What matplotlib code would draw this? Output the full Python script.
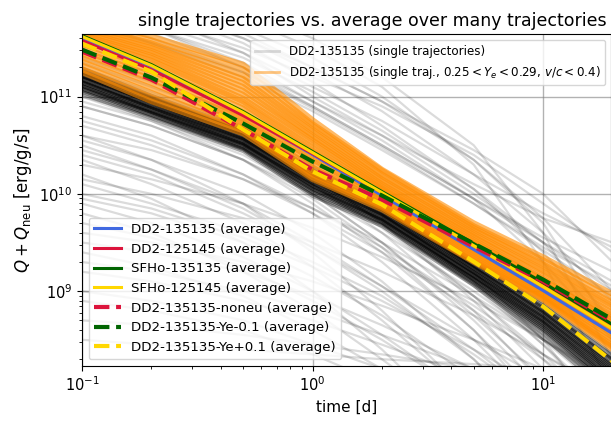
import numpy as np
import matplotlib.pyplot as plt
from matplotlib.lines import Line2D

t_nodes = [0.1, 0.2, 0.5, 1, 2, 5, 10, 20]

# averages, log10(Q + Q_neu) [erg/g/s]
avg_dd2_135135 = [11.606, 11.308, 10.815, 10.404, 9.983, 9.428, 9.006, 8.564]
avg_dd2_125145 = [11.576, 11.277, 10.805, 10.414, 10.013, 9.479, 9.078, 8.646]
avg_sfho_135135 = [11.627, 11.329, 10.846, 10.435, 10.024, 9.489, 9.088, 8.657]
avg_sfho_125145 = [11.617, 11.319, 10.836, 10.424, 10.013, 9.468, 9.047, 8.616]
avg_noneu = [11.462, 11.175, 10.661, 10.250, 9.941, 9.458, 9.099, 8.688]
avg_ye_minus = [11.483, 11.195, 10.723, 10.332, 9.983, 9.489, 9.119, 8.708]
avg_ye_plus = [11.545, 11.257, 10.661, 10.230, 9.890, 9.304, 8.842, 8.277]

# single trajectories (DD2-135135), log10(Q + Q_neu)
single_high = [
    [12.2, 11.95, 11.6, 11.25, 10.85, 10.2, 9.6, 8.9],
    [12.3, 12.05, 11.7, 11.4, 11.0, 10.35, 9.7, 8.6],
    [12.0, 11.8, 11.5, 11.2, 10.9, 10.4, 9.9, 9.4],
    [11.9, 11.75, 11.45, 11.1, 10.75, 10.2, 9.8, 9.45],
    [12.4, 12.1, 11.8, 11.5, 11.1, 10.3, 9.3, 8.0],
    [11.95, 11.7, 11.3, 10.95, 10.6, 10.1, 9.75, 9.5],
    [12.1, 11.85, 11.45, 11.0, 10.6, 10.0, 9.5, 8.7],
    [11.85, 11.65, 11.3, 10.9, 10.5, 9.95, 9.55, 9.2],
    [12.5, 12.2, 11.9, 11.6, 11.2, 10.5, 9.6, 8.3],
    [12.0, 11.7, 11.35, 10.95, 10.55, 9.95, 9.3, 8.5],
    [11.9, 11.7, 11.4, 11.05, 10.65, 10.05, 9.4, 8.6],
    [12.2, 11.9, 11.55, 11.15, 10.7, 10.05, 9.5, 9.0],
    [11.8, 11.55, 11.2, 10.85, 10.45, 9.9, 9.45, 9.05],
    [11.85, 11.6, 11.25, 10.9, 10.5, 9.95, 9.5, 9.1],
    [11.75, 11.55, 11.25, 10.88, 10.48, 9.9, 9.42, 8.95],
    [12.3, 12.0, 11.65, 11.3, 10.95, 10.45, 10.0, 9.3],
    [12.1, 11.9, 11.6, 11.3, 10.95, 10.35, 9.75, 9.0],
]
single_low = [
    [10.8, 10.6, 10.2, 9.8, 9.3, 8.5, 7.8, 7.0],
    [10.6, 10.35, 9.9, 9.4, 8.8, 7.9, 7.2, 6.5],
    [10.4, 10.2, 9.8, 9.45, 9.05, 8.5, 8.1, 7.7],
    [10.2, 9.95, 9.5, 9.0, 8.4, 7.5, 6.8, 6.0],
    [10.0, 9.85, 9.55, 9.25, 8.9, 8.4, 8.0, 7.6],
    [9.8, 9.6, 9.2, 8.8, 8.3, 7.6, 7.0, 6.4],
    [9.6, 9.5, 9.3, 9.1, 8.85, 8.5, 8.2, 7.9],
    [9.4, 9.25, 8.95, 8.6, 8.2, 7.5, 7.0, 6.5],
    [9.2, 9.1, 8.9, 8.7, 8.45, 8.1, 7.8, 7.5],
    [9.0, 8.9, 8.7, 8.45, 8.2, 7.8, 7.4, 7.0],
    [8.7, 8.65, 8.55, 8.45, 8.35, 8.2, 8.05, 7.9],
    [8.5, 8.45, 8.4, 8.35, 8.3, 8.25, 8.2, 8.15],
    [10.9, 10.7, 10.35, 10.0, 9.6, 9.0, 8.5, 8.0],
    [10.7, 10.5, 10.15, 9.8, 9.4, 8.8, 8.3, 7.8],
    [10.5, 10.25, 9.85, 9.45, 9.0, 8.3, 7.6, 6.9],
    [10.3, 10.15, 9.9, 9.65, 9.35, 8.9, 8.5, 8.1],
    [11.0, 10.75, 10.35, 9.9, 9.4, 8.6, 7.9, 7.2],
    [10.1, 9.9, 9.6, 9.3, 8.95, 8.35, 7.85, 7.3],
    [9.9, 9.7, 9.35, 9.0, 8.55, 7.9, 7.3, 6.7],
    [10.95, 10.75, 10.4, 10.0, 9.5, 8.7, 8.0, 7.3],
    [10.75, 10.55, 10.2, 9.85, 9.45, 8.85, 8.35, 7.9],
    [10.55, 10.35, 10.0, 9.6, 9.1, 8.3, 7.6, 6.9],
    [10.35, 10.1, 9.7, 9.25, 8.7, 7.9, 7.2, 6.5],
    [10.15, 10.0, 9.75, 9.5, 9.2, 8.75, 8.35, 7.95],
    [9.95, 9.8, 9.5, 9.15, 8.75, 8.1, 7.5, 6.9],
    [9.7, 9.55, 9.25, 8.9, 8.5, 7.9, 7.4, 6.9],
    [9.5, 9.4, 9.2, 8.95, 8.65, 8.2, 7.8, 7.4],
    [9.3, 9.2, 9.0, 8.8, 8.55, 8.2, 7.9, 7.6],
    [8.9, 8.8, 8.6, 8.35, 8.05, 7.6, 7.2, 6.8],
    [10.6, 10.45, 10.15, 9.85, 9.5, 8.95, 8.5, 8.05],
    [10.45, 10.25, 9.9, 9.5, 9.05, 8.4, 7.85, 7.3],
]
single_mid = [
    [11.2, 10.95, 10.6, 10.2, 9.7, 8.9, 8.2, 7.4],
    [11.3, 11.05, 10.7, 10.3, 9.85, 9.1, 8.45, 7.7],
    [11.1, 10.85, 10.5, 10.1, 9.65, 8.95, 8.35, 7.7],
    [11.4, 11.15, 10.8, 10.4, 9.95, 9.2, 8.5, 7.6],
    [11.0, 10.8, 10.45, 10.0, 9.5, 8.75, 8.1, 7.4],
    [11.25, 11.0, 10.65, 10.25, 9.8, 9.1, 8.5, 7.9],
    [11.35, 11.1, 10.75, 10.35, 9.9, 9.25, 8.7, 8.1],
    [11.15, 10.9, 10.55, 10.15, 9.72, 9.05, 8.45, 7.8],
    [11.05, 10.85, 10.5, 10.1, 9.6, 8.8, 8.05, 7.3],
    [11.2, 11.0, 10.65, 10.2, 9.7, 8.95, 8.3, 7.6],
    [10.9, 10.7, 10.35, 9.95, 9.45, 8.6, 7.8, 7.0],
]
# dense bundle just below the averages; each row stands for n similar trajectories
single_bundle = [
    [11.30, 11.02, 10.68, 10.27, 9.91, 9.32, 8.88, 8.36],
    [11.28, 11.00, 10.66, 10.25, 9.89, 9.30, 8.86, 8.34],
    [11.27, 10.99, 10.65, 10.24, 9.88, 9.29, 8.84, 8.31],
    [11.25, 10.98, 10.64, 10.22, 9.87, 9.28, 8.83, 8.30],
    [11.24, 10.97, 10.62, 10.21, 9.86, 9.26, 8.81, 8.28],
    [11.23, 10.95, 10.61, 10.19, 9.84, 9.25, 8.79, 8.25],
    [11.21, 10.94, 10.60, 10.18, 9.83, 9.24, 8.78, 8.23],
    [11.20, 10.93, 10.58, 10.16, 9.82, 9.22, 8.76, 8.21],
    [11.19, 10.92, 10.57, 10.15, 9.80, 9.21, 8.74, 8.19],
    [11.17, 10.90, 10.56, 10.13, 9.79, 9.19, 8.73, 8.17],
    [11.16, 10.89, 10.55, 10.12, 9.78, 9.18, 8.71, 8.15],
    [11.15, 10.88, 10.53, 10.10, 9.77, 9.17, 8.69, 8.13],
    [11.13, 10.87, 10.52, 10.09, 9.75, 9.15, 8.68, 8.10],
    [11.12, 10.85, 10.51, 10.07, 9.74, 9.14, 8.66, 8.08],
    [11.10, 10.84, 10.50, 10.06, 9.73, 9.13, 8.64, 8.06],
    [11.09, 10.83, 10.48, 10.04, 9.72, 9.11, 8.62, 8.03],
    [11.07, 10.82, 10.47, 10.03, 9.70, 9.10, 8.60, 8.01],
    [11.06, 10.80, 10.46, 10.01, 9.69, 9.08, 8.58, 7.98],
    [11.04, 10.79, 10.45, 9.99, 9.68, 9.07, 8.55, 7.95],
    [11.02, 10.77, 10.43, 9.97, 9.66, 9.05, 8.52, 7.92],
]
bundle_count = [3, 4, 5, 6, 7, 8, 8, 8, 8, 8, 8, 8, 8, 8, 8, 7, 6, 5, 4, 3]

# single trajectories with 0.25 < Ye < 0.29, v/c < 0.4
single_sel = [
    [11.80, 11.62, 11.33, 10.76, 10.25, 9.70, 9.35, 8.97],
    [11.76, 11.58, 11.28, 10.72, 10.24, 9.67, 9.32, 8.92],
    [11.74, 11.55, 11.22, 10.70, 10.20, 9.65, 9.28, 8.88],
    [11.72, 11.52, 11.18, 10.66, 10.18, 9.63, 9.26, 8.85],
    [11.70, 11.50, 11.14, 10.64, 10.15, 9.60, 9.22, 8.82],
    [11.68, 11.47, 11.10, 10.60, 10.13, 9.58, 9.20, 8.78],
    [11.66, 11.45, 11.06, 10.58, 10.10, 9.56, 9.16, 8.75],
    [11.64, 11.42, 11.02, 10.55, 10.08, 9.53, 9.13, 8.72],
    [11.62, 11.40, 10.98, 10.52, 10.06, 9.51, 9.11, 8.70],
    [11.60, 11.37, 10.95, 10.48, 10.04, 9.49, 9.08, 8.67],
    [11.57, 11.34, 10.92, 10.45, 10.02, 9.47, 9.06, 8.64],
    [11.54, 11.30, 10.88, 10.42, 10.00, 9.45, 9.04, 8.61],
    [11.50, 11.26, 10.84, 10.38, 9.98, 9.43, 9.02, 8.58],
    [11.47, 11.22, 10.80, 10.35, 9.96, 9.41, 9.00, 8.56],
    [11.44, 11.18, 10.77, 10.31, 9.94, 9.39, 8.98, 8.53],
    [11.40, 11.14, 10.74, 10.27, 9.92, 9.37, 8.96, 8.50],
    [11.36, 11.09, 10.71, 10.23, 9.90, 9.35, 8.95, 8.47],
    [11.32, 11.04, 10.68, 10.20, 9.88, 9.33, 8.93, 8.44],
    [11.28, 10.99, 10.65, 10.17, 9.86, 9.31, 8.92, 8.42],
    [11.25, 10.95, 10.62, 10.15, 9.84, 9.30, 8.91, 8.40],
]

fig = plt.figure(figsize=(6.11, 4.26), dpi=100)
ax = fig.add_axes([82/611, 1 - 366/426, 529/611, 332/426])

t = np.array(t_nodes)
single_alpha = 0.14

for row in single_high + single_low + single_mid:
    ax.plot(t, 10**np.array(row), color='k', alpha=single_alpha, lw=1.6)
for row, n in zip(single_bundle, bundle_count):
    ax.plot(t, 10**np.array(row), color='k', alpha=1 - (1 - single_alpha)**n, lw=1.6)

for row in single_sel:
    ax.plot(t, 10**np.array(row), color='darkorange', alpha=0.6, lw=4)

averages = [
    (avg_dd2_135135, 'royalblue', '-', 'DD2-135135 (average)'),
    (avg_dd2_125145, 'crimson', '-', 'DD2-125145 (average)'),
    (avg_sfho_135135, 'darkgreen', '-', 'SFHo-135135 (average)'),
    (avg_sfho_125145, 'gold', '-', 'SFHo-125145 (average)'),
    (avg_noneu, 'crimson', '--', 'DD2-135135-noneu (average)'),
    (avg_ye_minus, 'darkgreen', '--', 'DD2-135135-Ye-0.1 (average)'),
    (avg_ye_plus, 'gold', '--', 'DD2-135135-Ye+0.1 (average)'),
]
avg_lines = []
for vals, col, ls, lab in averages:
    lw = 2.2 if ls == '-' else 3
    l, = ax.plot(t, 10**np.array(vals), color=col, ls=ls, lw=lw, label=lab)
    avg_lines.append(l)

ax.set_xscale('log')
ax.set_yscale('log')
ax.set_xlim(0.1, 19.7)
ax.set_ylim(1.7e8, 4.4e11)
ax.grid(True, which='major', color='gray', alpha=0.6, lw=1)
ax.tick_params(labelsize=10.5)

ax.set_xlabel('time [d]', fontsize=11)
ax.set_ylabel(r'$Q + Q_{\rm neu}$ [erg/g/s]', fontsize=12)
ax.set_title('single trajectories vs. average over many trajectories', fontsize=12.5, x=0.548)

top_handles = [
    Line2D([], [], color='k', alpha=single_alpha, lw=2),
    Line2D([], [], color='darkorange', alpha=0.5, lw=2),
]
top_labels = ['DD2-135135 (single trajectories)',
              r'DD2-135135 (single traj., 0.25$<Y_e<$0.29, $v/c<$0.4)']
leg1 = ax.legend(top_handles, top_labels, loc='upper right', fontsize=8.6)
ax.add_artist(leg1)
ax.legend(handles=avg_lines, loc='lower left', fontsize=9.6)

plt.savefig('out.png', dpi=100)
